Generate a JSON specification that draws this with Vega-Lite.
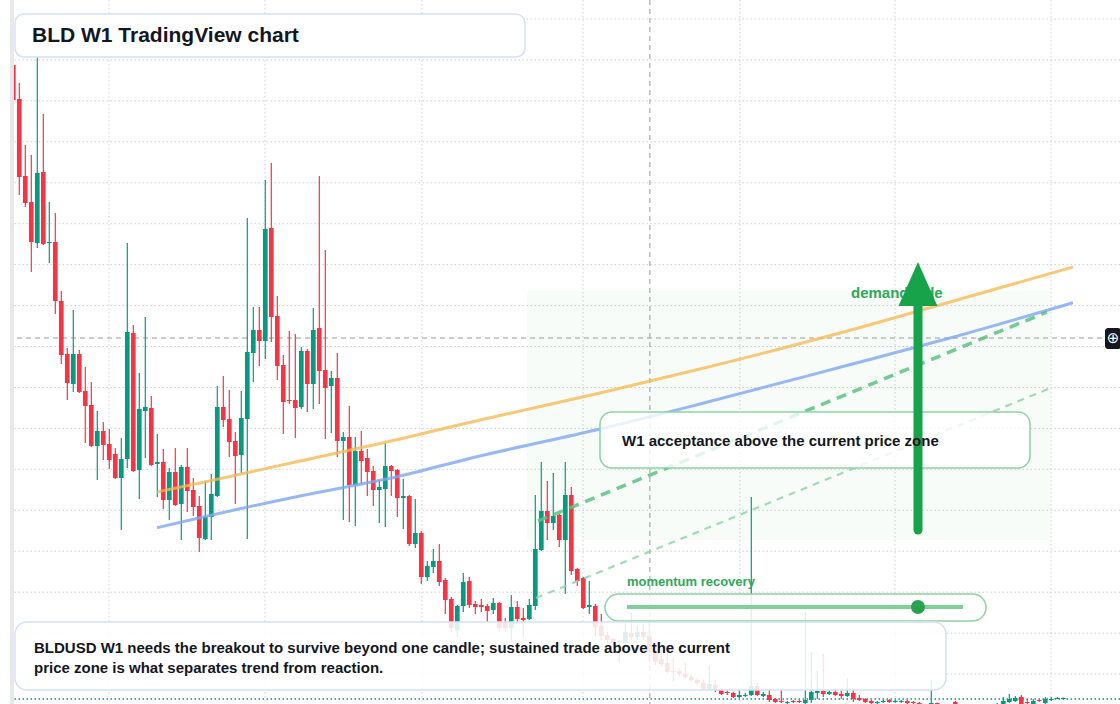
{
  "$schema": "https://vega.github.io/schema/vega-lite/v6.json",
  "width": 1106,
  "height": 704,
  "autosize": "none",
  "padding": {"left": 14, "top": 0, "right": 0, "bottom": 0},
  "background": "white",
  "config": {"view": {"stroke": null}, "text": {"font": "Liberation Sans"}},
  "datasets": {
    "candles": [
      {"i":0,"o":639,"h":641,"l":604,"c":604},{"i":1,"o":605,"h":621,"l":509,"c":527},{"i":2,"o":528,"h":559,"l":497,"c":501},{"i":3,"o":502,"h":549,"l":432,"c":462},
      {"i":4,"o":461,"h":647,"l":456,"c":531},{"i":5,"o":532,"h":590,"l":459,"c":460},{"i":6,"o":461,"h":502,"l":441,"c":462},{"i":7,"o":462,"h":491,"l":390,"c":403},
      {"i":8,"o":403,"h":413,"l":340,"c":349},{"i":9,"o":350,"h":356,"l":304,"c":321},{"i":10,"o":320,"h":394,"l":312,"c":350},{"i":11,"o":350,"h":354,"l":311,"c":312},
      {"i":12,"o":313,"h":337,"l":261,"c":298},{"i":13,"o":299,"h":322,"l":257,"c":258},{"i":14,"o":258,"h":293,"l":224,"c":273},{"i":15,"o":273,"h":282,"l":244,"c":259},
      {"i":16,"o":260,"h":275,"l":235,"c":244},{"i":17,"o":250,"h":256,"l":225,"c":226},{"i":18,"o":226,"h":266,"l":174,"c":245},{"i":19,"o":245,"h":461,"l":236,"c":372},
      {"i":20,"o":371,"h":379,"l":232,"c":233},{"i":21,"o":234,"h":331,"l":205,"c":295},{"i":22,"o":293,"h":387,"l":246,"c":297},{"i":23,"o":296,"h":308,"l":238,"c":239},
      {"i":24,"o":240,"h":270,"l":207,"c":242},{"i":25,"o":242,"h":255,"l":195,"c":204},{"i":26,"o":204,"h":236,"l":184,"c":232},{"i":27,"o":232,"h":256,"l":198,"c":199},
      {"i":28,"o":200,"h":239,"l":164,"c":237},{"i":29,"o":237,"h":256,"l":192,"c":213},{"i":30,"o":214,"h":226,"l":188,"c":197},{"i":31,"o":198,"h":208,"l":152,"c":166},
      {"i":32,"o":165,"h":223,"l":164,"c":187},{"i":33,"o":187,"h":230,"l":164,"c":210},{"i":34,"o":208,"h":318,"l":207,"c":297},{"i":35,"o":297,"h":328,"l":277,"c":284},
      {"i":36,"o":285,"h":314,"l":247,"c":262},{"i":37,"o":263,"h":272,"l":200,"c":248},{"i":38,"o":249,"h":313,"l":231,"c":286},{"i":39,"o":285,"h":486,"l":165,"c":352},
      {"i":40,"o":351,"h":397,"l":322,"c":374},{"i":41,"o":374,"h":397,"l":338,"c":363},{"i":42,"o":363,"h":524,"l":345,"c":475},{"i":43,"o":476,"h":541,"l":362,"c":387},
      {"i":44,"o":388,"h":408,"l":324,"c":338},{"i":45,"o":339,"h":349,"l":270,"c":302},{"i":46,"o":304,"h":373,"l":300,"c":303},{"i":47,"o":304,"h":370,"l":266,"c":296},
      {"i":48,"o":297,"h":357,"l":295,"c":353},{"i":49,"o":353,"h":355,"l":292,"c":320},{"i":50,"o":320,"h":396,"l":295,"c":374},{"i":51,"o":376,"h":528,"l":300,"c":333},
      {"i":52,"o":334,"h":454,"l":265,"c":316},{"i":53,"o":318,"h":333,"l":271,"c":326},{"i":54,"o":326,"h":351,"l":247,"c":263},{"i":55,"o":263,"h":272,"l":184,"c":267},
      {"i":56,"o":267,"h":298,"l":182,"c":219},{"i":57,"o":219,"h":267,"l":178,"c":253},{"i":58,"o":253,"h":273,"l":220,"c":243},{"i":59,"o":246,"h":255,"l":208,"c":232},
      {"i":60,"o":233,"h":238,"l":198,"c":214},{"i":61,"o":214,"h":224,"l":181,"c":217},{"i":62,"o":215,"h":261,"l":177,"c":238},{"i":63,"o":238,"h":239,"l":208,"c":233},
      {"i":64,"o":234,"h":235,"l":187,"c":206},{"i":65,"o":206,"h":225,"l":175,"c":208},{"i":66,"o":208,"h":209,"l":158,"c":160},{"i":67,"o":160,"h":205,"l":156,"c":171},
      {"i":68,"o":171,"h":173,"l":120,"c":127},{"i":69,"o":127,"h":143,"l":123,"c":138},{"i":70,"o":137,"h":155,"l":131,"c":143},{"i":71,"o":143,"h":160,"l":118,"c":122},
      {"i":72,"o":124,"h":126,"l":90,"c":104},{"i":73,"o":105,"h":107,"l":72,"c":76},{"i":74,"o":74,"h":99,"l":67,"c":98},{"i":75,"o":98,"h":131,"l":92,"c":122},
      {"i":76,"o":123,"h":127,"l":96,"c":99},{"i":77,"o":100,"h":103,"l":90,"c":97},{"i":78,"o":99,"h":105,"l":92,"c":97},{"i":79,"o":98,"h":100,"l":82,"c":93},
      {"i":80,"o":94,"h":106,"l":90,"c":101},{"i":81,"o":101,"h":102,"l":72,"c":76},{"i":82,"o":82,"h":86,"l":72,"c":76},{"i":83,"o":76,"h":109,"l":64,"c":97},
      {"i":84,"o":97,"h":103,"l":81,"c":85},{"i":85,"o":86,"h":96,"l":67,"c":84},{"i":86,"o":85,"h":105,"l":84,"c":99},{"i":87,"o":98,"h":209,"l":94,"c":155},
      {"i":88,"o":154,"h":242,"l":153,"c":193},{"i":89,"o":193,"h":223,"l":164,"c":181},{"i":90,"o":181,"h":231,"l":174,"c":188},{"i":91,"o":189,"h":190,"l":157,"c":164},
      {"i":92,"o":164,"h":242,"l":110,"c":209},{"i":93,"o":209,"h":217,"l":129,"c":133},{"i":94,"o":135,"h":136,"l":118,"c":123},{"i":95,"o":126,"h":127,"l":95,"c":96},
      {"i":96,"o":97,"h":123,"l":90,"c":99},{"i":97,"o":98,"h":100,"l":67,"c":77},{"i":98,"o":78,"h":90,"l":64,"c":68},{"i":99,"o":69,"h":72,"l":61,"c":64},
      {"i":100,"o":65,"h":66,"l":57,"c":61},{"i":101,"o":61,"h":64,"l":42,"c":63},{"i":102,"o":61,"h":81,"l":59,"c":72},{"i":103,"o":71,"h":91,"l":64,"c":67},
      {"i":104,"o":67,"h":78,"l":64,"c":72},{"i":105,"o":72,"h":80,"l":64,"c":67},{"i":106,"o":68,"h":81,"l":42,"c":52},{"i":107,"o":52,"h":54,"l":39,"c":42},
      {"i":108,"o":45,"h":49,"l":37,"c":40},{"i":109,"o":41,"h":52,"l":30,"c":32},{"i":110,"o":33,"h":46,"l":22,"c":32},{"i":111,"o":33,"h":36,"l":28,"c":30},
      {"i":112,"o":30,"h":41,"l":25,"c":27},{"i":113,"o":27,"h":29,"l":22,"c":24},{"i":114,"o":24,"h":26,"l":19,"c":21},{"i":115,"o":21,"h":24,"l":14,"c":15},
      {"i":116,"o":15,"h":38,"l":14,"c":20},{"i":117,"o":19,"h":24,"l":12,"c":14},{"i":118,"o":14,"h":15,"l":9,"c":10},{"i":119,"o":12,"h":14,"l":9,"c":11},
      {"i":120,"o":11,"h":12,"l":6,"c":7},{"i":121,"o":7,"h":14,"l":6,"c":9},{"i":122,"o":8,"h":11,"l":7,"c":9},{"i":123,"o":9,"h":207,"l":8,"c":18},
      {"i":124,"o":18,"h":21,"l":8,"c":9},{"i":125,"o":8,"h":12,"l":7,"c":10},{"i":126,"o":9,"h":15,"l":2,"c":4},{"i":127,"o":5,"h":6,"l":1,"c":2},
      {"i":128,"o":3,"h":14,"l":1,"c":2},{"i":129,"o":1,"h":3,"l":0,"c":2},{"i":130,"o":3,"h":4,"l":1,"c":2},{"i":131,"o":3,"h":4,"l":1,"c":2},
      {"i":132,"o":1,"h":92,"l":0,"c":4},{"i":133,"o":4,"h":52,"l":1,"c":12},{"i":134,"o":11,"h":33,"l":5,"c":13},{"i":135,"o":13,"h":50,"l":7,"c":10},
      {"i":136,"o":10,"h":15,"l":9,"c":12},{"i":137,"o":12,"h":16,"l":8,"c":9},{"i":138,"o":10,"h":15,"l":5,"c":8},{"i":139,"o":8,"h":26,"l":7,"c":11},
      {"i":140,"o":11,"h":15,"l":2,"c":5},{"i":141,"o":6,"h":9,"l":3,"c":4},{"i":142,"o":5,"h":6,"l":1,"c":2},{"i":143,"o":3,"h":4,"l":0,"c":1},
      {"i":144,"o":1,"h":3,"l":0,"c":2},{"i":145,"o":2,"h":4,"l":1,"c":3},{"i":146,"o":4,"h":5,"l":1,"c":2},{"i":147,"o":2,"h":4,"l":1,"c":3},
      {"i":148,"o":2,"h":4,"l":1,"c":3},{"i":149,"o":3,"h":4,"l":0,"c":1},{"i":150,"o":2,"h":3,"l":-1,"c":1},{"i":151,"o":1,"h":2,"l":-2,"c":0},
      {"i":152,"o":-1,"h":0,"l":-3,"c":-2},{"i":153,"o":-1,"h":24,"l":-2,"c":1},{"i":154,"o":1,"h":1.5,"l":-2,"c":0},{"i":155,"o":-2,"h":-1,"l":-5,"c":-3},
      {"i":156,"o":-3,"h":-1,"l":-4,"c":-2},{"i":157,"o":2,"h":3,"l":-2,"c":0},{"i":158,"o":-1,"h":0,"l":-5,"c":-3},{"i":159,"o":-3,"h":-2,"l":-6,"c":-4},
      {"i":160,"o":-4,"h":-2,"l":-6,"c":-3},{"i":161,"o":-3,"h":-2,"l":-7,"c":-5},{"i":162,"o":-5,"h":-3,"l":-7,"c":-4},{"i":163,"o":-4,"h":-1,"l":-5,"c":-2},
      {"i":164,"o":-2,"h":1,"l":-3,"c":0},{"i":165,"o":0,"h":7,"l":-1,"c":3},{"i":166,"o":2,"h":10,"l":1,"c":5},{"i":167,"o":3,"h":8,"l":2,"c":6},
      {"i":168,"o":7,"h":9,"l":-1,"c":0},{"i":169,"o":2,"h":5,"l":0,"c":1},{"i":170,"o":0,"h":5,"l":-1,"c":3},{"i":171,"o":4,"h":4.5,"l":2,"c":3},
      {"i":172,"o":1,"h":7,"l":0,"c":5},{"i":173,"o":4,"h":7,"l":3,"c":5},{"i":174,"o":5,"h":7,"l":5,"c":6},{"i":175,"o":5,"h":6.5,"l":5,"c":6}
    ],
    "gridY": [{"v":685},{"v":644.1},{"v":603.1},{"v":562.2},{"v":521.2},{"v":480.3},{"v":439.4},{"v":398.4},{"v":357.5},{"v":316.5},{"v":275.6},{"v":234.7},{"v":193.7},{"v":152.8},{"v":111.8},{"v":70.9},{"v":30}],
    "gridX": [{"i":15.95},{"i":41.95},{"i":68.1},{"i":94.95},{"i":121.1},{"i":146.95},{"i":172.95}],
    "orange": [{"i":23.95,"v":212},{"i":31.12,"v":221},{"i":47.78,"v":243},{"i":64.45,"v":265},{"i":77.78,"v":284},{"i":97.78,"v":311},{"i":114.45,"v":335},{"i":137.78,"v":371},{"i":156.12,"v":402},{"i":176.62,"v":437}],
    "blue": [{"i":23.95,"v":176.3},{"i":31.12,"v":186.3},{"i":47.78,"v":208},{"i":64.45,"v":228},{"i":77.78,"v":248},{"i":97.78,"v":275},{"i":114.45,"v":300},{"i":137.78,"v":336.7},{"i":156.12,"v":366},{"i":176.62,"v":401.3}],
    "greenThick": [{"i":87.45,"v":183},{"i":172.28,"v":392}],
    "greenThin": [{"i":87.12,"v":106},{"i":172.45,"v":315}]
  },
  "layer": [
    {"data": {"name": "gridY"}, "mark": {"type": "rule", "stroke": "#cdd1d6", "strokeWidth": 1, "strokeDash": [1.5, 2.5]},
     "encoding": {"y": {"field": "v", "type": "quantitative", "scale": {"domain": [0, 704], "nice": false, "zero": false}, "axis": null}}},
    {"data": {"name": "gridX"}, "mark": {"type": "rule", "stroke": "#cdd1d6", "strokeWidth": 1, "strokeDash": [1.5, 2.5]},
     "encoding": {"x": {"field": "i", "type": "quantitative", "scale": {"domain": [0.117, 184.45], "nice": false, "zero": false}, "axis": null}}},
    {"data": {"values": [{"i": 85.6, "i2": 172.8, "v": 413, "v2": 164}]}, "mark": {"type": "rect", "fill": "#16a34a", "opacity": 0.035},
     "encoding": {"x": {"field": "i", "type": "quantitative", "axis": null}, "x2": {"field": "i2"}, "y": {"field": "v", "type": "quantitative", "axis": null}, "y2": {"field": "v2"}}},
    {"data": {"values": [{"i": 106.1}]}, "mark": {"type": "rule", "stroke": "#9a9a9a", "strokeWidth": 1, "strokeDash": [5, 4]},
     "encoding": {"x": {"field": "i", "type": "quantitative", "axis": null}}},
    {"data": {"values": [{"v": 366}]}, "mark": {"type": "rule", "stroke": "#9a9a9a", "strokeWidth": 1, "strokeDash": [5, 4]},
     "encoding": {"y": {"field": "v", "type": "quantitative", "axis": null}}},
    {"data": {"values": [{"v": 5}]}, "mark": {"type": "rule", "stroke": "#089981", "strokeWidth": 1.5, "strokeDash": [1.5, 2.5]},
     "encoding": {"y": {"field": "v", "type": "quantitative", "axis": null}}},
    {"data": {"name": "candles"}, "mark": {"type": "rule", "strokeWidth": 1.2, "clip": true},
     "encoding": {"x": {"field": "i", "type": "quantitative", "axis": null}, "y": {"field": "l", "type": "quantitative", "axis": null}, "y2": {"field": "h"},
       "color": {"condition": {"test": "datum.c >= datum.o", "value": "#089981"}, "value": "#f23645"}}},
    {"data": {"name": "candles"}, "mark": {"type": "rule", "strokeWidth": 4.7, "strokeCap": "butt", "clip": true},
     "encoding": {"x": {"field": "i", "type": "quantitative", "axis": null}, "y": {"field": "o", "type": "quantitative", "axis": null}, "y2": {"field": "c"},
       "color": {"condition": {"test": "datum.c >= datum.o", "value": "#089981"}, "value": "#f23645"}}},
    {"data": {"name": "orange"}, "mark": {"type": "line", "stroke": "#f7b84f", "strokeWidth": 3, "opacity": 0.78, "interpolate": "monotone"},
     "encoding": {"x": {"field": "i", "type": "quantitative", "axis": null}, "y": {"field": "v", "type": "quantitative", "axis": null}}},
    {"data": {"name": "blue"}, "mark": {"type": "line", "stroke": "#7ea6f2", "strokeWidth": 3, "opacity": 0.8, "interpolate": "monotone"},
     "encoding": {"x": {"field": "i", "type": "quantitative", "axis": null}, "y": {"field": "v", "type": "quantitative", "axis": null}}},
    {"data": {"name": "greenThick"}, "mark": {"type": "line", "stroke": "#5cc283", "strokeWidth": 3.5, "strokeDash": [10, 7], "opacity": 0.85},
     "encoding": {"x": {"field": "i", "type": "quantitative", "axis": null}, "y": {"field": "v", "type": "quantitative", "axis": null}}},
    {"data": {"name": "greenThin"}, "mark": {"type": "line", "stroke": "#8fd6a8", "strokeWidth": 2.2, "strokeDash": [7, 6], "opacity": 0.85},
     "encoding": {"x": {"field": "i", "type": "quantitative", "axis": null}, "y": {"field": "v", "type": "quantitative", "axis": null}}},
    {"data": {"values": [{"i": 0.28, "i2": 85.28, "v": 690, "v2": 647}]}, "mark": {"type": "rect", "fill": "white", "fillOpacity": 0.95, "stroke": "#d5e1f5", "strokeWidth": 1.5, "cornerRadius": 9},
     "encoding": {"x": {"field": "i", "type": "quantitative", "axis": null}, "x2": {"field": "i2"}, "y": {"field": "v", "type": "quantitative", "axis": null}, "y2": {"field": "v2"}}},
    {"data": {"values": [{"i": 97.78, "i2": 169.45, "v": 292, "v2": 236}]}, "mark": {"type": "rect", "fill": "white", "fillOpacity": 0.8, "stroke": "#8dd3a4", "strokeWidth": 1.5, "cornerRadius": 12},
     "encoding": {"x": {"field": "i", "type": "quantitative", "axis": null}, "x2": {"field": "i2"}, "y": {"field": "v", "type": "quantitative", "axis": null}, "y2": {"field": "v2"}}},
    {"data": {"values": [{"i": 98.62, "i2": 162.12, "v": 110, "v2": 83}]}, "mark": {"type": "rect", "fill": "white", "fillOpacity": 0.85, "stroke": "#8dd3a4", "strokeWidth": 1.5, "cornerRadius": 13.5},
     "encoding": {"x": {"field": "i", "type": "quantitative", "axis": null}, "x2": {"field": "i2"}, "y": {"field": "v", "type": "quantitative", "axis": null}, "y2": {"field": "v2"}}},
    {"data": {"values": [{"i": 0.28, "i2": 155.45, "v": 82, "v2": 14}]}, "mark": {"type": "rect", "fill": "white", "fillOpacity": 0.86, "stroke": "#d5e1f5", "strokeWidth": 1.5, "cornerRadius": 12},
     "encoding": {"x": {"field": "i", "type": "quantitative", "axis": null}, "x2": {"field": "i2"}, "y": {"field": "v", "type": "quantitative", "axis": null}, "y2": {"field": "v2"}}},
    {"data": {"values": [{"i": 102.28, "i2": 158.28, "v": 97}]}, "mark": {"type": "rule", "stroke": "#82cf9c", "strokeWidth": 4},
     "encoding": {"x": {"field": "i", "type": "quantitative", "axis": null}, "x2": {"field": "i2"}, "y": {"field": "v", "type": "quantitative", "axis": null}}},
    {"data": {"values": [{"i": 150.78, "v": 97}]}, "mark": {"type": "point", "shape": "circle", "filled": true, "fill": "#27a24e", "opacity": 1, "size": 196},
     "encoding": {"x": {"field": "i", "type": "quantitative", "axis": null}, "y": {"field": "v", "type": "quantitative", "axis": null}}},
    {"data": {"values": [{"i": 102.28, "v": 122, "label": "momentum recovery"}]}, "mark": {"type": "text", "align": "left", "baseline": "middle", "fontSize": 13, "fontWeight": "bold", "fill": "#2ea85a"},
     "encoding": {"x": {"field": "i", "type": "quantitative", "axis": null}, "y": {"field": "v", "type": "quantitative", "axis": null}, "text": {"field": "label"}}},
    {"data": {"values": [{"i": 139.62, "v": 411, "label": "demand side"}]}, "mark": {"type": "text", "align": "left", "baseline": "middle", "fontSize": 15, "fontWeight": "bold", "fill": "#2ea85a"},
     "encoding": {"x": {"field": "i", "type": "quantitative", "axis": null}, "y": {"field": "v", "type": "quantitative", "axis": null}, "text": {"field": "label"}}},
    {"data": {"values": [{"i": 150.78, "v": 174, "v2": 398}]}, "mark": {"type": "rule", "stroke": "#16a34a", "strokeWidth": 9, "strokeCap": "round"},
     "encoding": {"x": {"field": "i", "type": "quantitative", "axis": null}, "y": {"field": "v", "type": "quantitative", "axis": null}, "y2": {"field": "v2"}}},
    {"data": {"values": [{"i": 150.78, "v": 420}]}, "mark": {"type": "point", "shape": "M-0.886,1L0.886,1L0,-1Z", "filled": true, "fill": "#16a34a", "opacity": 1, "size": 1936},
     "encoding": {"x": {"field": "i", "type": "quantitative", "axis": null}, "y": {"field": "v", "type": "quantitative", "axis": null}}},
    {"data": {"values": [{"i": 3.12, "v": 668, "label": "BLD W1 TradingView chart"}]}, "mark": {"type": "text", "align": "left", "baseline": "middle", "fontSize": 21, "fontWeight": "bold", "fill": "#131722"},
     "encoding": {"x": {"field": "i", "type": "quantitative", "axis": null}, "y": {"field": "v", "type": "quantitative", "axis": null}, "text": {"field": "label"}}},
    {"data": {"values": [{"i": 101.45, "v": 263, "label": "W1 acceptance above the current price zone"}]}, "mark": {"type": "text", "align": "left", "baseline": "middle", "fontSize": 15, "fontWeight": "bold", "fill": "#131722"},
     "encoding": {"x": {"field": "i", "type": "quantitative", "axis": null}, "y": {"field": "v", "type": "quantitative", "axis": null}, "text": {"field": "label"}}},
    {"data": {"values": [{"i": 3.45, "v": 56, "label": "BLDUSD W1 needs the breakout to survive beyond one candle; sustained trade above the current"}, {"i": 3.45, "v": 36, "label": "price zone is what separates trend from reaction."}]},
     "mark": {"type": "text", "align": "left", "baseline": "middle", "fontSize": 15, "fontWeight": "bold", "fill": "#131722"},
     "encoding": {"x": {"field": "i", "type": "quantitative", "axis": null}, "y": {"field": "v", "type": "quantitative", "axis": null}, "text": {"field": "label"}}},
    {"data": {"values": [{"i": 181.95, "i2": 184.6, "v": 376, "v2": 355}]}, "mark": {"type": "rect", "fill": "#131722", "cornerRadius": 3, "clip": false},
     "encoding": {"x": {"field": "i", "type": "quantitative", "axis": null}, "x2": {"field": "i2"}, "y": {"field": "v", "type": "quantitative", "axis": null}, "y2": {"field": "v2"}}},
    {"data": {"values": [{"i": 183.3, "v": 366, "label": "⊕"}]}, "mark": {"type": "text", "align": "center", "baseline": "middle", "fontSize": 15, "fill": "white", "font": "DejaVu Sans"},
     "encoding": {"x": {"field": "i", "type": "quantitative", "axis": null}, "y": {"field": "v", "type": "quantitative", "axis": null}, "text": {"field": "label"}}},
    {"data": {"values": [{"i": -0.55, "i2": 0.117, "v": 0, "v2": 704}]}, "mark": {"type": "rect", "fill": "#e8e8e8", "clip": false},
     "encoding": {"x": {"field": "i", "type": "quantitative", "axis": null}, "x2": {"field": "i2"}, "y": {"field": "v", "type": "quantitative", "axis": null}, "y2": {"field": "v2"}}}
  ]
}
